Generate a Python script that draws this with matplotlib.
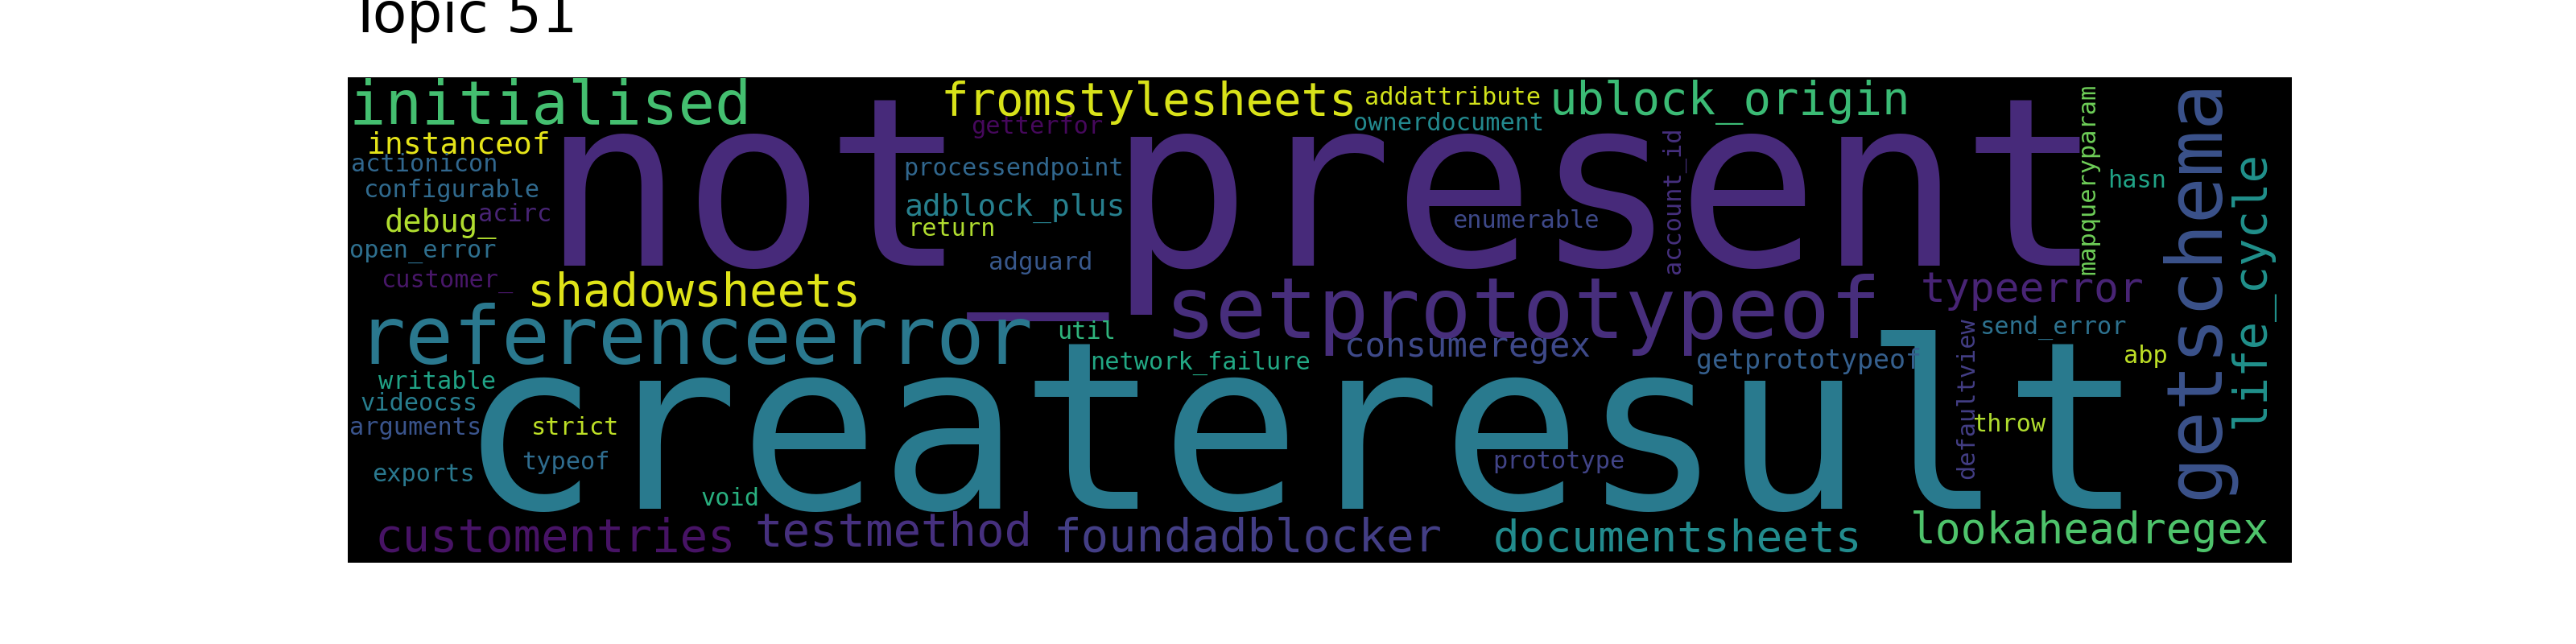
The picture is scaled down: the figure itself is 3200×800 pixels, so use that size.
import matplotlib
matplotlib.use("Agg")
import matplotlib.pyplot as plt

# word cloud for topic 51, canvas is 800 x 200 (word cloud pixels)
words = [
    "not_present", "createresult", "referenceerror", "setprototypeof", "initialised",
    "fromstylesheets", "ublock_origin", "shadowsheets", "customentries", "testmethod",
    "foundadblocker", "documentsheets", "lookaheadregex", "typeerror", "consumeregex",
    "instanceof", "debug_", "adblock_plus", "getprototypeof", "addattribute",
    "ownerdocument", "getterfor", "actionicon", "configurable", "acirc",
    "open_error", "customer_", "processendpoint", "return", "adguard",
    "enumerable", "hasn", "network_failure", "util", "prototype",
    "send_error", "abp", "throw", "writable", "videocss",
    "arguments", "strict", "typeof", "exports", "void",
    "getschema", "life_cycle", "mapqueryparam", "account_id", "defaultview",
]

# font size of each word on the canvas (relative frequency)
weights = [
    97, 96, 33, 35, 25,
    19, 19, 19, 19, 19,
    19, 18, 17.5, 17, 14,
    12.6, 12.8, 12.6, 11, 10,
    10, 10, 10, 10, 10,
    10, 10, 10, 10, 10.2,
    10, 10, 10, 10, 10,
    10, 10, 10, 10, 10,
    10, 10, 10, 10, 10,
    32, 19, 10, 10, 10,
]

# layout: (centre x, baseline y, rotation) in canvas pixels
layout = [
    (401.0, 77.6, 0), (392.2, 177.8, 0), (142.9, 118.1, 0), (483.3, 107.5, 0), (83.5, 19.2, 0),
    (329.7, 15.6, 0), (568.6, 15.3, 0), (142.4, 94.2, 0), (85.5, 195.4, 0), (224.6, 193.0, 0),
    (370.3, 195.4, 0), (547.4, 195.4, 0), (717.0, 192.0, 0), (693.1, 92.5, 0), (460.8, 115.1, 0),
    (45.9, 31.2, 0), (38.1, 63.7, 0), (274.6, 57.0, 0), (601.4, 120.1, 0), (454.6, 11.3, 0),
    (453.0, 21.9, 0), (283.7, 23.2, 0), (31.5, 38.8, 0), (42.6, 49.4, 0), (68.9, 59.4, 0),
    (30.8, 74.3, 0), (40.7, 86.6, 0), (273.9, 40.5, 0), (248.6, 65.3, 0), (285.2, 79.3, 0),
    (484.8, 62.0, 0), (736.2, 45.6, 0), (350.8, 120.4, 0), (304.1, 107.8, 0), (498.5, 161.2, 0),
    (702.1, 105.8, 0), (739.8, 117.7, 0), (683.8, 145.9, 0), (36.9, 128.4, 0), (29.3, 137.3, 0),
    (27.8, 147.3, 0), (93.7, 147.3, 0), (89.6, 161.5, 0), (31.3, 166.5, 0), (157.3, 176.5, 0),
    (769.5, 86.9, 90), (788.3, 87.4, 90), (719.0, 41.8, 90), (548.2, 50.7, 90), (669.1, 132.3, 90),
]

# position of each word's colour in viridis
shades = [
    0.12, 0.41, 0.40, 0.13, 0.70,
    0.94, 0.68, 0.95, 0.05, 0.14,
    0.18, 0.48, 0.72, 0.10, 0.22,
    0.96, 0.88, 0.43, 0.30, 0.93,
    0.47, 0.02, 0.33, 0.34, 0.10,
    0.36, 0.06, 0.33, 0.88, 0.27,
    0.22, 0.58, 0.60, 0.65, 0.20,
    0.37, 0.90, 0.88, 0.58, 0.42,
    0.26, 0.90, 0.35, 0.40, 0.63,
    0.25, 0.50, 0.78, 0.14, 0.18,
]

CANVAS_W, CANVAS_H = 800, 200
DPI = 100

fig = plt.figure(figsize=(32, 8), dpi=DPI)
ax = fig.add_axes([432 / 3200, 1 - 699 / 800, 2415 / 3200, 603 / 800])
ax.set_facecolor("black")
ax.set_xlim(0, CANVAS_W)
ax.set_ylim(CANVAS_H, 0)
ax.set_xticks([])
ax.set_yticks([])
for s in ax.spines.values():
    s.set_visible(False)

px_per_unit = 2415 / CANVAS_W
cmap = plt.get_cmap("viridis")

for word, w, (x, y, rot), c in zip(words, weights, layout, shades):
    ax.text(x, y, word, fontsize=w * px_per_unit * 72 / DPI,
            family="DejaVu Sans Mono", color=cmap(c),
            ha="center", va="baseline", rotation=rot, rotation_mode="anchor",
            clip_on=True)

ax.set_title("Topic 51", loc="left", fontsize=50, pad=40)

fig.savefig("out.png", dpi=DPI)
